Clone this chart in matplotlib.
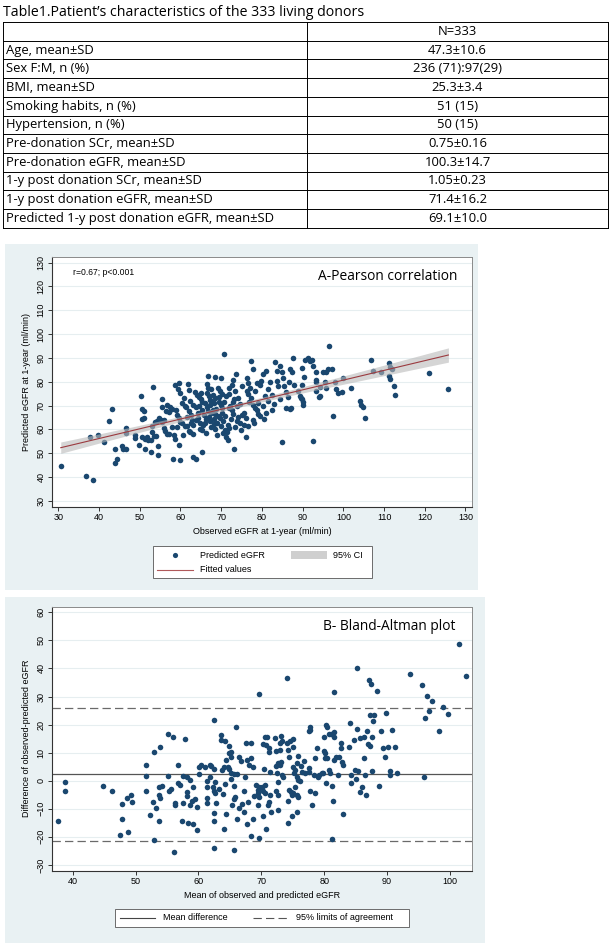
import numpy as np
import matplotlib
matplotlib.use("Agg")
import matplotlib.pyplot as plt
from matplotlib.patches import Rectangle
from matplotlib.lines import Line2D

plt.rcParams['lines.scale_dashes'] = False

# ---------------- data ----------------
table_title = "Table1.Patient\u2019s characteristics of the 333 living donors"
table_header = "N=333"
row_labels = ["Age, mean\u00b1SD", "Sex F:M, n (%)", "BMI, mean\u00b1SD", "Smoking habits, n (%)",
              "Hypertension, n (%)", "Pre-donation SCr, mean\u00b1SD", "Pre-donation eGFR, mean\u00b1SD",
              "1-y post donation SCr, mean\u00b1SD", "1-y post donation eGFR, mean\u00b1SD",
              "Predicted 1-y post donation eGFR, mean\u00b1SD"]
row_values = ["47.3\u00b110.6", "236 (71):97(29)", "25.3\u00b13.4", "51 (15)", "50 (15)",
              "0.75\u00b10.16", "100.3\u00b114.7", "1.05\u00b10.23", "71.4\u00b116.2", "69.1\u00b110.0"]

# Panel A: observed vs predicted eGFR
obs_egfr = [30.6, 36.8, 38.6, 37.9, 39.8, 41.1, 42.5, 43.3, 43.8, 43.8, 44.4, 45.7, 45.9, 46.7, 46.6, 46.6,
            48.8, 48.9, 49.8, 50.4, 50.6, 51.0, 51.0, 50.6, 50.6, 51.2, 51.8, 51.4, 52.0, 52.7, 53.3, 52.7,
            53.0, 53.7, 54.2, 53.0, 53.5, 54.0, 54.5, 54.6, 54.8, 55.3, 55.5, 55.5, 55.5, 55.9, 56.3, 56.6,
            56.5, 56.7, 57.1, 57.5, 57.9, 57.9, 58.3, 58.6, 58.1, 58.7, 58.9, 59.2, 59.6, 60.0, 59.4, 59.6,
            59.7, 59.9, 60.0, 60.5, 61.0, 61.4, 60.8, 61.0, 61.6, 62.0, 61.9, 62.2, 62.0, 62.7, 62.9, 62.4,
            63.0, 63.2, 63.2, 63.8, 60.3, 61.5, 62.3, 62.6, 63.0, 57.2, 56.0, 59.2, 60.7,
            63.8, 64.3, 64.8, 63.6, 64.0, 64.6, 65.0, 65.2, 65.6, 65.2, 66.0, 65.4, 66.4, 66.8, 67.5, 66.7,
            66.4, 67.2, 67.8, 68.3, 68.6, 66.8, 67.5, 68.1, 68.5, 69.2, 67.2, 67.6, 68.3, 68.6, 68.6, 69.9,
            69.3, 69.7, 70.1, 69.4, 69.9, 70.3, 69.7, 70.1, 70.5, 70.8, 71.0, 71.4, 71.1, 71.6, 71.8, 72.2,
            72.6, 71.8, 72.6, 73.0, 72.8, 73.2, 73.2, 73.6, 73.8, 74.2, 74.6, 75.0, 75.7, 76.2, 76.0, 76.3,
            76.5, 76.3, 76.7, 77.1, 77.3, 77.9, 77.9, 78.3, 78.7, 78.7, 79.5, 79.9, 79.1, 79.5, 80.3, 80.9,
            80.8, 81.4, 81.6, 82.0, 82.4, 83.2, 83.6, 83.6, 84.0, 84.4, 85.0, 85.2, 85.0, 85.5, 85.8, 86.3,
            86.0, 86.8, 87.2, 86.7, 87.0, 87.5, 87.7, 88.0, 88.9, 89.3, 89.8, 90.2, 89.8, 89.9, 90.6, 91.4,
            91.8, 92.2, 92.6, 92.6, 93.2, 93.4, 94.3, 95.1, 95.7, 96.3, 96.5, 97.1, 97.5,
            64.5, 65.3, 65.8, 66.2, 66.5, 67.0, 67.3, 67.9, 68.2, 68.8, 69.0, 69.5, 70.0, 70.6, 71.0, 71.3,
            71.6, 72.0, 72.4, 72.9, 73.3, 73.8, 74.2, 74.6, 75.2, 75.5, 76.8, 77.4, 77.8, 78.2, 79.0, 80.2,
            81.0, 82.6, 83.0, 84.5, 64.2, 65.0, 66.1, 67.0, 63.9, 64.8, 66.3, 69.0, 70.4, 72.0, 73.5, 74.8,
            76.5, 78.0, 80.5,
            90.3, 93.3, 93.4, 95.5, 95.7, 94.2, 94.0, 90.0, 89.6,
            97.9, 98.2, 98.8, 99.6, 99.8, 101.8, 104.1, 104.4, 104.9, 105.2, 106.9, 107.3, 109.2, 111.2,
            111.4, 111.2, 111.4, 111.9, 112.4, 112.7, 121.0, 125.8]
pred_egfr = [44.7, 40.3, 38.6, 56.9, 57.7, 54.6, 63.4, 68.6, 51.8, 45.7, 47.6, 53.2, 51.9, 51.8, 60.7, 58.5,
             57.5, 56.4, 53.4, 74.0, 68.4, 67.8, 64.6, 64.2, 56.8, 55.9, 56.8, 51.9, 55.4, 55.6, 77.9, 50.5,
             61.6, 63.0, 63.3, 58.8, 57.4, 57.1, 53.2, 49.3, 64.6, 63.9, 63.1, 72.6, 69.2, 60.4, 59.3, 58.2,
             67.6, 70.2, 67.4, 69.4, 68.7, 61.1, 57.8, 56.0, 47.5, 78.8, 68.3, 65.9, 64.6, 63.1, 76.8, 79.3,
             53.4, 47.3, 75.1, 70.9, 70.0, 69.2, 73.0, 61.2, 61.4, 59.5, 78.9, 76.5, 67.5, 66.1, 64.0, 71.7,
             70.1, 61.9, 48.2, 47.4, 62.5, 65.0, 59.0, 62.8, 58.2, 58.0, 64.0, 60.8, 57.5,
             63.9, 64.6, 62.8, 75.8, 74.4, 73.7, 75.1, 59.7, 61.8, 71.6, 70.9, 50.6, 78.9, 77.5, 76.8, 82.4,
             75.1, 72.3, 71.6, 70.9, 73.0, 67.6, 66.8, 68.2, 66.4, 65.8, 63.5, 61.1, 62.1, 60.0, 82.0, 81.7,
             77.5, 76.1, 74.7, 71.6, 70.2, 68.8, 64.7, 66.8, 63.3, 91.6, 59.7, 59.0, 56.6, 55.5, 68.9, 69.6,
             68.1, 77.4, 78.8, 80.8, 71.6, 72.6, 51.7, 83.2, 63.6, 65.0, 62.6, 66.1, 66.8, 64.7, 56.6, 81.7,
             79.5, 76.1, 74.7, 77.5, 88.9, 85.3, 70.2, 68.8, 68.1, 79.5, 78.8, 80.2, 66.6, 65.6, 83.2, 84.6,
             73.9, 71.8, 76.9, 79.7, 68.1, 88.2, 84.7, 80.1, 78.4, 86.8, 84.0, 81.4, 54.5, 78.4, 75.6, 73.5,
             68.8, 68.4, 69.1, 79.8, 85.3, 83.9, 89.8, 78.5, 76.3, 74.1, 72.7, 71.3, 85.6, 78.5, 89.3, 90.0,
             88.6, 89.3, 55.3, 86.5, 83.9, 76.2, 74.0, 83.9, 84.2, 85.3, 95.1, 85.3, 65.7,
             70.0, 68.3, 66.0, 64.2, 69.5, 74.0, 70.3, 74.5, 64.5, 68.7, 62.8, 73.5, 61.5, 71.3, 65.5, 73.8,
             62.0, 75.0, 64.2, 66.5, 76.0, 69.8, 73.0, 70.6, 78.0, 62.0, 71.6, 73.0, 64.0, 76.0, 71.0, 70.0,
             67.0, 74.5, 70.5, 72.8, 66.8, 72.8, 62.5, 65.0, 69.2, 60.3, 58.5, 57.8, 58.3, 60.5, 61.0, 59.6,
             61.5, 62.8, 64.5,
             82.1, 80.7, 80.0, 80.0, 77.2, 77.9, 73.7, 70.2, 73.0,
             80.0, 76.8, 75.1, 75.8, 81.4, 77.5, 72.0, 70.2, 69.5, 64.9, 89.1, 84.6, 83.9, 87.7,
             86.3, 82.4, 81.0, 85.3, 78.2, 74.4, 83.5, 76.9]

# Panel B: Bland-Altman
mean_egfr = [37.7, 38.7, 38.7, 44.8, 46.2, 47.5, 47.9, 47.9, 48.6, 48.8, 49.3, 49.5, 51.7, 51.7, 51.7, 52.3,
             52.7, 53.0, 53.0, 53.3, 53.7, 53.7, 53.7, 53.8, 53.8, 54.2, 55.1, 55.1, 55.3, 55.7, 56.0, 56.1,
             56.2, 56.3, 56.7, 56.8, 57.0, 57.4, 57.6, 57.6, 57.9, 58.1, 58.1, 58.2, 58.4, 58.6, 58.6, 59.0,
             59.2, 59.2, 59.4, 59.7, 59.8, 60.1, 60.1, 60.4, 61.1, 61.3, 61.3, 61.3, 61.4, 61.8, 61.8, 62.0,
             62.3, 62.4, 62.4, 62.5, 62.5, 62.5, 62.4, 62.7, 62.7, 62.8, 63.3, 63.6, 63.6, 63.7, 63.9, 64.0,
             64.1, 64.2, 64.2, 64.3, 64.3, 64.7, 64.8, 64.8, 64.9, 65.1, 65.1, 65.2, 65.2, 65.4, 65.6, 65.6,
             65.7, 65.7, 65.8, 66.0, 66.1, 66.2, 66.4, 66.5, 66.7, 66.9, 67.2, 67.3, 67.4, 67.6, 67.7, 67.7,
             67.9, 68.1, 68.3, 68.4, 68.4, 68.6, 68.7, 68.8,
             69.6, 69.6, 69.2, 69.4, 69.6, 69.4, 69.7, 69.5, 70.1, 70.2, 70.3, 70.5, 70.6, 70.4, 70.6, 70.9,
             70.7, 70.3, 70.8, 71.0, 71.2, 71.2, 71.2, 71.3, 71.4, 71.5, 72.2, 72.3, 72.4, 72.4, 72.6, 72.5,
             72.7, 72.7, 72.9, 73.1, 72.7, 72.9, 73.0, 73.2, 73.3, 73.3, 73.4, 74.0, 74.1, 74.2, 74.2, 74.3,
             74.4, 74.4, 74.7, 74.8, 75.1, 74.5, 74.8, 75.0, 75.0, 75.1, 75.3, 75.6, 75.9, 75.2, 75.6, 75.9,
             76.2, 75.4, 75.6, 75.9, 75.6, 76.3, 76.4, 76.8, 76.9, 77.5, 77.7, 77.8, 77.5, 77.5, 77.8, 78.0,
             78.3, 78.5, 78.6, 78.8, 79.0, 79.2, 79.6, 79.8, 80.0, 80.0, 80.1, 80.1, 80.4, 80.2, 80.5, 80.7,
             81.0, 80.2, 80.7, 80.9, 81.2, 81.4, 81.5, 81.6, 81.5, 81.9, 82.3, 81.6, 81.2, 82.2, 82.6, 82.7,
             82.8, 83.0, 83.0, 83.9, 84.1, 84.2, 84.2, 84.8, 84.9, 85.0, 85.2, 85.2, 85.3, 85.7, 86.0, 86.3,
             86.5, 85.7, 86.3, 86.8, 86.6, 86.9, 87.2, 87.1, 87.5, 87.2, 87.9, 87.6, 87.8, 87.6, 88.4, 88.7,
             89.1, 89.4, 89.7, 89.8, 90.2, 90.4, 90.4, 90.8, 91.2, 91.5, 93.7, 95.5, 95.8, 96.1, 96.4, 96.7,
             97.2, 98.2, 98.9, 99.7, 101.5, 102.5]
diff_egfr = [-14.4, -0.5, -3.7, -1.9, -3.7, -19.2, -8.4, -13.8, -6.1, -18.3, -5.1, -7.6, 1.8, 5.6, -3.8, -12.1,
             -7.6, -21.0, 10.1, -9.6, -2.4, -5.0, -14.3, 12.1, -6.1, -1.9, 16.5, 1.8, -3.7, -3.0, 15.4, -25.5,
             -8.0, -8.5, 5.7, -0.7, -1.4, -14.4, -7.8, 1.8, 14.8, 1.2, -4.0, -5.5, -15.2, 0.2, -8.7, -7.1,
             -2.1, -15.3, -6.4, -17.6, -9.5, 4.9, 2.4, 5.6, 4.9, -0.2, -6.1, -8.1, -2.1, 5.5, 1.2, 5.2,
             -2.1, 21.6, 4.3, -3.6, -11.6, -14.3, -24.0, -0.5, -4.5, -8.0, -3.0, 16.4, 14.5, 3.8, -4.9, 5.0,
             -17.3, 14.3, -1.1, -11.9, 7.4, 4.9, 9.8, 4.2, 12.5, 10.1, 2.6, 8.6, 0.6, -8.7, -6.6, -1.8,
             -24.7, 2.4, -5.7, 19.2, -13.6, 2.3, -9.6, 8.3, 7.1, -8.3, -3.8, -11.2, 1.4, 13.3, 7.4, -15.4,
             -7.5, 5.5, -19.6, 13.3, 8.1, -13.8, 5.0, -5.5,
             30.8, -20.3, -1.6, -3.3, -2.1, -4.5, -5.7, -8.7, -2.1, -3.6, -12.4, -1.5, -4.5, 4.0, 15.7, 15.7,
             12.7, 13.0, -17.3, -8.7, -7.5, 11.5, 10.1, 3.2, -5.1, -11.1, 15.1, 5.2, -3.6, 10.7, -5.1, 2.6,
             -0.4, 6.2, 5.6, 6.7, -10.4, 13.3, 10.9, 15.9, 14.3, 1.9, 1.4, 36.6, 13.3, 10.9, -15.0, -7.3,
             8.6, -3.3, -4.0, -5.0, -4.5, 14.3, -12.6, 14.7, 12.1, 5.0, 3.8, 6.4, 8.8, 2.6, 1.2, 0.3,
             0.0, -2.1, -5.2, -5.9, -11.1, 5.4, 3.2, 7.1, 2.6, 17.6, 19.0, 18.0, 4.7, 3.2, -3.8, -8.7,
             2.1, -4.5, 8.1, 11.6, 1.4, 2.1, 2.6, 2.8, 15.4, 10.7, 9.8, 8.1, 8.1, 19.9, 19.0, 16.6,
             16.5, -0.9, 3.8, 2.8, -1.9, -7.1, 17.5, 15.4, 7.4, 8.3, 8.3, 31.7, -20.9, 1.9, 13.3, 11.6,
             6.7, 5.7, -11.7, 11.9, 20.4, 2.2, -0.9, 14.5, 3.8, 0.7, 40.2, 18.3, 3.4, 15.1, -2.1, 15.7,
             2.0, -4.0, 8.0, 17.8, -5.0, 13.0, 12.5, 35.8, 34.3, 23.5, 23.4, 15.7, 21.4, 3.6, 31.9, -1.8,
             17.7, 11.5, 8.3, 24.3, 11.9, 3.3, 2.1, 18.0, 11.9, 2.9, 38.0, 34.0, 1.4, 22.3, 30.3, 24.8,
             28.5, 17.6, 26.2, 23.7, 48.6, 37.4]
mean_difference = 2.33
loa_low, loa_high = -21.41, 26.07

a_xticks = list(range(30, 131, 10))
a_yticks = list(range(30, 131, 10))
b_xticks = list(range(40, 101, 10))
b_yticks = list(range(-30, 61, 10))

# ---------------- style ----------------
W, H = 614, 950
NAVY = '#1a476f'
PANEL = '#e9f1f3'
GRID = '#e6eef0'
STATA = ['Liberation Sans', 'DejaVu Sans']
CAL = ['Open Sans', 'DejaVu Sans']
DASH = (6.0, 3.0)

fig = plt.figure(figsize=(W / 100, H / 100), dpi=100)
fig.patch.set_facecolor('white')

ov = fig.add_axes([0, 0, 1, 1])
ov.set_xlim(0, W)
ov.set_ylim(H, 0)
ov.axis('off')


def rect(l, t, r, b):
    return [l / W, 1 - b / H, (r - l) / W, (b - t) / H]


# ---------------- table ----------------
ov.text(3, 12, table_title, family=CAL, fontsize=10.2, va='center', ha='left')
t0, rh = 22.0, 18.7
nrows = 11
xl, xm, xr = 3, 307, 608
for k in range(nrows + 1):
    ov.plot([xl, xr], [t0 + k * rh, t0 + k * rh], color='black', lw=0.7)
for xv in (xl, xm, xr):
    ov.plot([xv, xv], [t0, t0 + nrows * rh], color='black', lw=0.7)
ov.text((xm + xr) / 2, t0 + rh / 2, table_header, family=CAL, fontsize=9.4, ha='center', va='center')
for i, (lab, val) in enumerate(zip(row_labels, row_values)):
    yc = t0 + (i + 1.5) * rh
    ov.text(6, yc, lab, family=CAL, fontsize=9.4, ha='left', va='center')
    ov.text((xm + xr) / 2, yc, val, family=CAL, fontsize=9.4, ha='center', va='center')

# ---------------- panels ----------------
ov.add_patch(Rectangle((5, 244), 473, 346, facecolor=PANEL, edgecolor='none', zorder=0))
ov.add_patch(Rectangle((5, 597), 480, 346, facecolor=PANEL, edgecolor='none', zorder=0))


def style_axes(ax):
    ax.set_facecolor('white')
    for s in ('left', 'bottom'):
        ax.spines[s].set_color('#333333')
        ax.spines[s].set_linewidth(0.8)
    for s in ('top', 'right'):
        ax.spines[s].set_color('#8a8a8a')
        ax.spines[s].set_linewidth(0.7)
    ax.tick_params(axis='both', length=2.6, width=0.7, color='#333333', labelsize=6.5,
                   pad=2.2, direction='out')
    ax.tick_params(axis='y', labelrotation=90)
    for lab in ax.get_yticklabels():
        lab.set_va('center')
    for lab in ax.get_xticklabels() + ax.get_yticklabels():
        lab.set_family(STATA)
    ax.grid(axis='y', color=GRID, lw=0.8)
    ax.set_axisbelow(True)


# ---------------- panel A ----------------
obs = np.array(obs_egfr)
prd = np.array(pred_egfr)
axA = fig.add_axes(rect(52, 256.7, 472, 506.7))
axA.set_xlim(28.45, 131.6)
axA.set_ylim(27.5, 132.5)
axA.set_xticks(a_xticks)
axA.set_yticks(a_yticks)
style_axes(axA)
axA.scatter(obs, prd, s=16, color=NAVY, linewidths=0, zorder=2)
b1, b0 = np.polyfit(obs, prd, 1)
xs = np.linspace(obs.min(), obs.max(), 200)
yh = b0 + b1 * xs
n = len(obs)
res = prd - (b0 + b1 * obs)
sres = np.sqrt(np.sum(res ** 2) / (n - 2))
se = sres * np.sqrt(1 / n + (xs - obs.mean()) ** 2 / np.sum((obs - obs.mean()) ** 2))
axA.fill_between(xs, yh - 1.967 * se, yh + 1.967 * se, color='#b9b9b9', alpha=0.6, lw=0, zorder=3)
axA.plot(xs, yh, color='#9b3a3f', lw=0.8, zorder=4)
axA.set_xlabel("Observed eGFR at 1-year (ml/min)", family=STATA, fontsize=6.5)
axA.set_ylabel("Predicted eGFR at 1-year (ml/min)", family=STATA, fontsize=6.5)
axA.xaxis.set_label_coords(0.5, -0.10)
axA.xaxis.label.set_va('center')
axA.yaxis.set_label_coords(-0.060, 0.5)
axA.yaxis.label.set_va('center')
axA.text(0.049, 0.935, "r=0.67; p<0.001", transform=axA.transAxes, family=STATA, fontsize=6.2,
         ha='left', va='center')
axA.text(0.633, 0.922, "A-Pearson correlation", transform=axA.transAxes, family=CAL, fontsize=9.9,
         ha='left', va='center')

# legend A
ov.add_patch(Rectangle((153, 546), 219, 32, facecolor='white', edgecolor='#555555', lw=0.6, zorder=1))
ov.scatter([175], [555], s=14, color=NAVY, linewidths=0, zorder=2)
ov.text(200, 555, "Predicted eGFR", family=STATA, fontsize=6.5, va='center', ha='left', zorder=2)
ov.add_patch(Rectangle((290.7, 550.7), 36, 8.6, facecolor='#cfcfcf', edgecolor='none', zorder=2))
ov.text(333, 555, "95% CI", family=STATA, fontsize=6.5, va='center', ha='left', zorder=2)
ov.plot([156.7, 193.3], [569.5, 569.5], color='#b0595a', lw=0.8, zorder=2)
ov.text(200, 570, "Fitted values", family=STATA, fontsize=6.5, va='center', ha='left', zorder=2)

# ---------------- panel B ----------------
axB = fig.add_axes(rect(52, 606.7, 472, 870.7))
axB.set_xlim(36.7, 103.5)
axB.set_ylim(-32.06, 62.0)
axB.set_xticks(b_xticks)
axB.set_yticks(b_yticks)
style_axes(axB)
axB.scatter(mean_egfr, diff_egfr, s=16, color=NAVY, linewidths=0, zorder=3)
axB.axhline(mean_difference, color='#555555', lw=0.9, zorder=2)
for yv in (loa_low, loa_high):
    axB.axhline(yv, color='#6a6a6a', lw=0.9, dashes=DASH, zorder=2)
axB.set_xlabel("Mean of observed and predicted eGFR", family=STATA, fontsize=6.5)
axB.set_ylabel("Difference of observed-predicted eGFR", family=STATA, fontsize=6.5)
axB.xaxis.set_label_coords(0.5, -0.0947)
axB.xaxis.label.set_va('center')
axB.yaxis.set_label_coords(-0.060, 0.5)
axB.yaxis.label.set_va('center')
notes = ["Mean difference = +2.33", "95% limits of agreement = -21.41/26.07",
         "Correlation coeficient = 0.56", "Bradley-Blackwood F = 84.172; P<0.001"]
for txt, yp in zip(notes, [614, 624.7, 635.3, 646.7]):
    ov.text(69.3, yp, txt, family=STATA, fontsize=5.3, ha='left', va='center', zorder=5)
axB.text((323 - 52) / 420, 1 - (626.7 - 606.7) / 264, "B- Bland-Altman plot", transform=axB.transAxes,
         family=CAL, fontsize=9.9, ha='left', va='center')

# legend B
ov.add_patch(Rectangle((115, 909.3), 294, 17.4, facecolor='white', edgecolor='#555555', lw=0.6, zorder=1))
ov.plot([120, 155], [918, 918], color='#444444', lw=0.8, zorder=2)
ov.text(162.7, 918, "Mean difference", family=STATA, fontsize=6.5, va='center', ha='left', zorder=2)
ov.plot([252.7, 289.3], [918, 918], color='#555555', lw=0.8, dashes=DASH, zorder=2)
ov.text(296, 918, "95% limits of agreement", family=STATA, fontsize=6.5, va='center', ha='left', zorder=2)

fig.savefig("out.png", dpi=100, facecolor='white')
